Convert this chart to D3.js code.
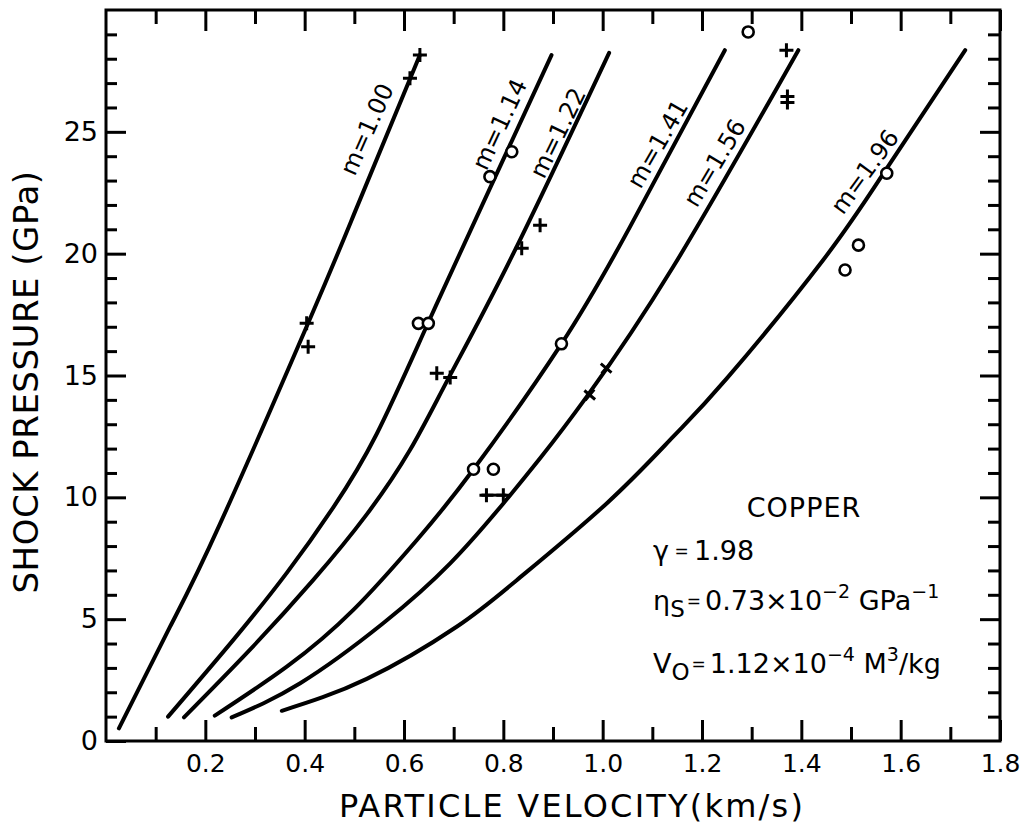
<!DOCTYPE html>
<html><head><meta charset="utf-8">
<script src="https://cdn.jsdelivr.net/npm/d3@7"></script>
<style>
body{margin:0;background:#fff}
svg text{font-family:"DejaVu Sans",sans-serif;fill:#000}
</style>
</head><body>
<svg id="c" width="1021" height="827"></svg>
<script>
// ---------- data ----------
const curveLabels = ["m=1.00","m=1.14","m=1.22","m=1.41","m=1.56","m=1.96"];
const curve100 = [[0.026,0.52],[0.129,4.69],[0.23,8.93],[0.414,17.48],[0.505,21.9],[0.632,28.15]];
const curve114 = [[0.125,1.0],[0.256,4.14],[0.364,6.9],[0.458,9.6],[0.545,12.6],[0.645,17.0],[0.753,21.8],[0.897,28.15]];
const curve122 = [[0.157,0.97],[0.29,3.75],[0.417,6.6],[0.525,9.3],[0.612,11.94],[0.69,14.9],[0.82,20.0],[1.013,28.24]];
const curve141 = [[0.219,1.04],[0.364,3.05],[0.498,5.38],[0.626,8.25],[0.74,11.15],[0.917,16.3],[1.055,21.1],[1.246,28.35]];
const curve156 = [[0.253,0.97],[0.391,2.37],[0.558,4.83],[0.693,7.29],[0.8,9.75],[0.874,11.6],[0.968,14.13],[1.142,19.46],[1.394,28.35]];
const curve196 = [[0.354,1.24],[0.525,2.55],[0.706,4.69],[0.827,6.6],[1.008,9.75],[1.142,12.49],[1.25,14.88],[1.444,19.74],[1.572,23.5],[1.73,28.35]];
const curves = [curve100,curve114,curve122,curve141,curve156,curve196];
// label anchor (x, y) in data units and rotation angle
const labelX = [0.526,0.793,0.91,1.111,1.226,1.528];
const labelY = [25.1,25.3,24.95,24.5,23.72,23.36];
const labelAngle = [-66,-65,-64,-60,-59,-54];

const circlePts = [[0.629,17.14],[0.649,17.14],[0.773,23.16],[0.817,24.18],
                   [0.74,11.15],[0.78,11.15],[0.917,16.3],[1.293,29.1],
                   [1.572,23.3],[1.515,20.35],[1.488,19.33]];
const plusPts = [[0.404,17.14],[0.407,16.18],[0.612,27.2],[0.632,28.15],
                 [0.666,15.09],[0.693,14.92],[0.837,20.22],[0.874,21.17],
                 [0.766,10.09],[0.800,10.09],[1.370,28.35],[1.372,26.45],[1.372,26.2]];
const crossPts = [[0.974,14.2],[1.007,15.3]];
const barPts = [[0.756,10.09],[0.806,10.09]];

const xMajor = [0.2,0.4,0.6,0.8,1.0,1.2,1.4,1.6,1.8];
const xTickLabels = ["0.2","0.4","0.6","0.8","1.0","1.2","1.4","1.6","1.8"];
const xMinor = [0.1,0.3,0.5,0.7,0.9,1.1,1.3,1.5,1.7];
const yMajor = [0,5,10,15,20,25];
const yTickLabels = ["0","5","10","15","20","25"];
const yMinor = [1,2,3,4,6,7,8,9,11,12,13,14,16,17,18,19,21,22,23,24,26,27,28,29];

// ---------- scales ----------
const svg = d3.select("#c");
const x = d3.scaleLinear().domain([0,1.8]).range([106,1000]);
const y = d3.scaleLinear().domain([0,30]).range([741,10]);

function styleAxis(g, fs){
  g.select(".domain").remove();
  g.selectAll("line").attr("stroke","#000").attr("stroke-width",3);
  g.selectAll("text").attr("font-size",fs).attr("font-family","DejaVu Sans").attr("fill","#000");
}
let g;
// bottom
g = svg.append("g").attr("transform",`translate(0,${y(0)})`)
  .call(d3.axisBottom(x).tickValues(xMajor).tickSizeInner(-21).tickSizeOuter(0).tickPadding(13).tickFormat((d,i)=>xTickLabels[i]));
styleAxis(g,25);
g = svg.append("g").attr("transform",`translate(0,${y(0)})`)
  .call(d3.axisBottom(x).tickValues(xMinor).tickSizeInner(-14).tickSizeOuter(0).tickFormat(""));
styleAxis(g,0);
// top
g = svg.append("g").attr("transform",`translate(0,${y(30)})`)
  .call(d3.axisTop(x).tickValues(xMajor).tickSizeInner(-21).tickSizeOuter(0).tickFormat(""));
styleAxis(g,0);
g = svg.append("g").attr("transform",`translate(0,${y(30)})`)
  .call(d3.axisTop(x).tickValues(xMinor).tickSizeInner(-14).tickSizeOuter(0).tickFormat(""));
styleAxis(g,0);
// left
g = svg.append("g").attr("transform",`translate(${x(0)},0)`)
  .call(d3.axisLeft(y).tickValues(yMajor).tickSizeInner(-20).tickSizeOuter(0).tickPadding(8).tickFormat((d,i)=>yTickLabels[i]));
styleAxis(g,27);
g = svg.append("g").attr("transform",`translate(${x(0)},0)`)
  .call(d3.axisLeft(y).tickValues(yMinor).tickSizeInner(-11).tickSizeOuter(0).tickFormat(""));
styleAxis(g,0);
// right
g = svg.append("g").attr("transform",`translate(${x(1.8)},0)`)
  .call(d3.axisRight(y).tickValues(yMajor.slice(1)).tickSizeInner(-20).tickSizeOuter(0).tickFormat(""));
styleAxis(g,0);
g = svg.append("g").attr("transform",`translate(${x(1.8)},0)`)
  .call(d3.axisRight(y).tickValues(yMinor).tickSizeInner(-12).tickSizeOuter(0).tickFormat(""));
styleAxis(g,0);

// frame
svg.append("rect").attr("x",x(0)).attr("y",y(30)).attr("width",x(1.8)-x(0)).attr("height",y(0)-y(30))
  .attr("fill","none").attr("stroke","#000").attr("stroke-width",3);

// curves
const line = d3.line().x(d=>x(d[0])).y(d=>y(d[1])).curve(d3.curveNatural);
svg.append("g").selectAll("path").data(curves).join("path")
  .attr("d",line).attr("fill","none").attr("stroke","#000").attr("stroke-width",4).attr("stroke-linecap","round");

// curve labels
svg.append("g").selectAll("text").data(curveLabels).join("text")
  .attr("transform",(d,i)=>`translate(${x(labelX[i])},${y(labelY[i])}) rotate(${labelAngle[i]})`)
  .attr("text-anchor","middle").attr("dominant-baseline","central")
  .attr("font-size",24).text(d=>d);

// error bar
svg.append("path").attr("d",d3.line().x(d=>x(d[0])).y(d=>y(d[1]))(barPts))
  .attr("stroke","#000").attr("stroke-width",3);
// markers
svg.append("g").selectAll("path").data(plusPts).join("path")
  .attr("transform",d=>`translate(${x(d[0])},${y(d[1])})`)
  .attr("d","M-7,0H7M0,-7V7").attr("stroke","#000").attr("stroke-width",3).attr("fill","none");
svg.append("g").selectAll("path").data(crossPts).join("path")
  .attr("transform",d=>`translate(${x(d[0])},${y(d[1])}) rotate(40)`)
  .attr("d","M-7,0H7M0,-7V7").attr("stroke","#000").attr("stroke-width",3).attr("fill","none");
svg.append("g").selectAll("circle").data(circlePts).join("circle")
  .attr("cx",d=>x(d[0])).attr("cy",d=>y(d[1])).attr("r",5.5)
  .attr("fill","#fff").attr("stroke","#000").attr("stroke-width",2.6);

// axis titles
svg.append("text").attr("x",572).attr("y",817).attr("text-anchor","middle").attr("font-size",32).attr("letter-spacing",2.2)
  .text("PARTICLE VELOCITY(km/s)");
svg.append("text").attr("transform","translate(38,382) rotate(-90)").attr("text-anchor","middle").attr("font-size",34).attr("letter-spacing",0.5)
  .text("SHOCK PRESSURE (GPa)");

// annotation
const ann = svg.append("g").attr("font-size",27);
ann.append("text").attr("x",804).attr("y",517).attr("text-anchor","middle").attr("letter-spacing",1).text("COPPER");
let t = ann.append("text").attr("x",653).attr("y",560);
t.append("tspan").text("γ");
t.append("tspan").attr("font-size",17).attr("dy",-3).text(" = ");
t.append("tspan").attr("dy",3).text("1.98");
t = ann.append("text").attr("x",653).attr("y",610);
t.append("tspan").text("η");
t.append("tspan").attr("font-size",23).attr("dy",7).text("S");
t.append("tspan").attr("font-size",17).attr("dy",-10).attr("dx",2).text("=");
t.append("tspan").attr("dy",3).attr("dx",4).text("0.73×10");
t.append("tspan").attr("font-size",19).attr("dy",-12).text("−2");
t.append("tspan").attr("dy",12).text(" GPa");
t.append("tspan").attr("font-size",19).attr("dy",-12).text("−1");
t = ann.append("text").attr("x",653).attr("y",673);
t.append("tspan").text("V");
t.append("tspan").attr("font-size",23).attr("dy",7).text("O");
t.append("tspan").attr("font-size",17).attr("dy",-10).attr("dx",2).text("=");
t.append("tspan").attr("dy",3).attr("dx",4).text("1.12×10");
t.append("tspan").attr("font-size",19).attr("dy",-12).text("−4");
t.append("tspan").attr("dy",12).text(" M");
t.append("tspan").attr("font-size",19).attr("dy",-12).text("3");
t.append("tspan").attr("dy",12).text("/kg");
</script>
</body></html>
